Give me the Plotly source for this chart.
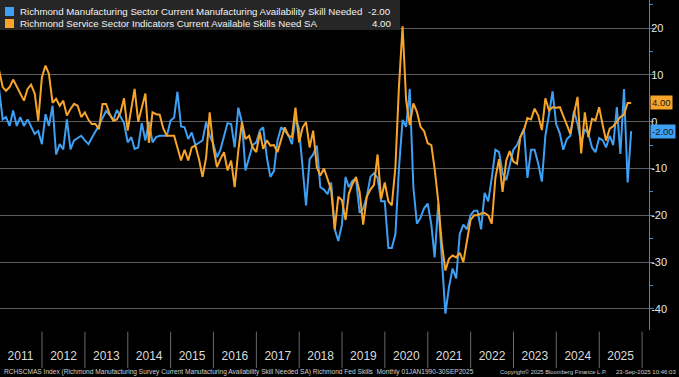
import pandas as pd
import plotly.graph_objects as go

# ---- data (monthly, Dec-2010 .. Sep-2025, month-end) ----
start_month = "2011-01-01"   # first of month after first observation
n_points = 178

manufacturing = [
    7, 0.5, 1, -0.9, 2.4, -0.9, 1, -0.9, 0.5, -1.2,
    -2.6, -2, -4.8, 1.6, -0.9, 3.4, -7, -4.8, -5.9, 0.5,
    -5.9, -4, -3.4, -3, -4, -4.8, -3.5, -2.2, -0.8, 0.8,
    2.3, 1.5, 0.3, 2.5, 1, -0.3, -4.4, -3.3, -5.8, -5.5,
    -0.3, -4, -0.1, -4.4, -3.3, -3, -3, -3, 0.2, 0.9,
    6.4, -1, -1.2, -3.7, -2.3, -5, -4.5, -4, -0.1, -3,
    -4.8, -7.6, -6, -3, -0.3, -0.5, -5.5, 3, -0.1, -10.4,
    -7.5, -5, -4.4, -1.9, -1.2, -7.6, -11.8, -10.5, -4, -1.2,
    -2, -2.8, -4.8, 0.9, -1.5, -10.4, -17.9, -8, -7, -5.1,
    -14, -14.5, -15.5, -13, -23, -25.5, -22, -11.8, -14, -12.6,
    -12.2, -19.5, -18.6, -16, -11.8, -11, -12, -17, -17, -27,
    -27, -24, -10, 0.4, -1.1, 7, -14, -21.8, -20.5, -18.5,
    -17.5, -22, -29, -17.5, -30.4, -41, -35.4, -31.4, -33.5, -24,
    -22, -23, -20, -19, -19, -23, -15.2, -17, -12, -6,
    -6.5, -11, -12.5, -9, -6, -5, -3.5, -1.5, -12, -6,
    -6, -9, -12.8, -3, 1.6, 6.5, -0.5, -2.5, -6, -3.7,
    -3, 2.3, -0.5, -4.5, -1.6, -2.5, -5.5, -6.5, -3.5, -4,
    -5.5, -3, -5, 3.1, -6.9, 7, -13, -2,
]

services = [
    11, 7.4, 6.6, 7.4, 9, 7.4, 6, 4.5, 7, 7.9,
    6, 0.2, 9.5, 12, 10.2, 4, 4.9, 3.4, 4.5, 1.3,
    2.7, 3.8, 3.4, 1, 2, 0.4, -0.5, -0.5, -1.6, 3.8,
    3.8, 1.6, 0.2, 0.5, 2, 5, -1.9, 3, 7, 0,
    3, 6, -4.5, 2, 1.6, 1.5, -1.5, -3, -3, -3,
    -5.5, -8.3, -6, -8.3, -5.5, -5.1, -8, -11.8, -7.6, 2,
    -5.5, -9.7, -8, -6.5, -10.4, -8.3, -14, -6.2, -0.1, -3.7,
    -3, -5.5, -6.5, -2.3, -5.8, -4, -5.1, -5, -6.5, -4,
    -1.2, -3, -3.3, 3, -4.4, -1.2, -0.1, -5.5, -1.9, -9.7,
    -11.5, -10, -12.5, -14.5, -23, -16, -16.8, -21, -15.4, -13.3,
    -11.8, -15, -22, -16, -14.5, -13.5, -7, -16.5, -13, -17,
    -17.9, -9.6, 7.5, 20.4, 4.6, -0.7, 3.9, 2.1, -1.1, -2,
    -4.6, -5, -10, -17, -26, -31.8, -29.3, -28.6, -29, -28,
    -30, -25.5, -21, -20, -20, -19.6, -19.5, -20, -21.8, -12,
    -8, -15, -8.3, -6.3, -8.5, -9, -3.3, -1.8, 0.8, 0.5,
    2.8, 1.3, -1.8, 5, 2.4, 3.1, 3, 3.1, 1.3, -1,
    -2.6, 1.7, 5.3, -6.8, 2, -3.3, 0.6, 0.3, 3.1, -0.8,
    -4, -1.5, -1, 0, 1, 1.5, 4, 4,
]

manufacturing_name = "Richmond Manufacturing Sector Current Manufacturing Availability Skill Needed"
services_name = "Richmond Service Sector Indicators Current Available Skills Need SA"
manufacturing_last = -2.00
services_last = 4.00

years = list(range(2011, 2026))
y_ticks = [20, 10, 0, -10, -20, -30, -40]

footer_left = ("RCHSCMAS Index (Richmond Manufacturing Survey Current Manufacturing Availability "
               "Skill Needed SA) Richmond Fed Skills  Monthly 01JAN1990-30SEP2025")
footer_mid = "Copyright\u00a9 2025 Bloomberg Finance L.P."
footer_right = "23-Sep-2025 10:46:03"

# ---- styling ----
BLUE = "#3f9ff2"
ORANGE = "#f7a42a"
GRID = "#5e5e5e"
AXIS = "#4f86c6"
FONT = "Liberation Sans, Arial, sans-serif"

dates = pd.date_range(start_month, periods=n_points, freq="MS") - pd.Timedelta(days=1)

fig = go.Figure()
fig.add_trace(go.Scatter(x=dates, y=manufacturing, mode="lines",
                         line=dict(color=BLUE, width=2), name=manufacturing_name,
                         showlegend=False))
fig.add_trace(go.Scatter(x=dates, y=services, mode="lines",
                         line=dict(color=ORANGE, width=2), name=services_name,
                         showlegend=False))

W, H = 679, 377
PW, PH = 649, 330

fig.update_layout(
    width=W, height=H, autosize=False,
    margin=dict(l=0, r=W - PW, t=0, b=H - PH, pad=0),
    paper_bgcolor="#000000", plot_bgcolor="#000000",
    font=dict(family=FONT, color="#e6e6e6"),
    showlegend=False,
)

fig.update_xaxes(
    type="date", range=["2011-01-08", "2026-03-01"],
    showgrid=False, zeroline=False, showline=False,
    tickvals=[f"{y}-07-02" for y in years], ticktext=[str(y) for y in years],
    ticks="", tickfont=dict(size=12, color="#dcdcdc", family=FONT),
    ticklabelstandoff=17,
)
fig.update_yaxes(
    range=[-44.5, 26], side="right",
    tickvals=y_ticks, ticktext=[str(v) for v in y_ticks],
    showgrid=True, gridcolor=GRID, gridwidth=1, zeroline=False,
    showline=True, linecolor=AXIS, linewidth=1,
    ticks="outside", ticklen=4, tickcolor=AXIS,
    tickfont=dict(size=11, color="#e6e6e6", family=FONT),
    ticklabelstandoff=-5,
    minor=dict(dtick=5, tick0=0, ticks="outside", ticklen=3, tickcolor=AXIS, showgrid=False),
)

shapes = []
# year separators in the bottom band
for y in years[1:] + [2026]:
    shapes.append(dict(type="line", xref="x", yref="paper",
                       x0=f"{y}-01-01", x1=f"{y}-01-01", y0=-0.005, y1=-38 / PH,
                       line=dict(color="#6a6a6a", width=1)))
# legend box
shapes.append(dict(type="rect", xref="paper", yref="paper",
                   x0=0, x1=400 / PW, y0=1 - 30 / PH, y1=1,
                   fillcolor="#262626", line=dict(width=0), layer="above"))
for col, (ya, yb) in ((BLUE, (7, 16)), (ORANGE, (19, 28))):
    shapes.append(dict(type="rect", xref="paper", yref="paper",
                       x0=5 / PW, x1=14 / PW, y0=1 - yb / PH, y1=1 - ya / PH,
                       fillcolor=col, line=dict(width=0), layer="above"))
fig.update_layout(shapes=shapes)

ann = []
for name, val, yc in ((manufacturing_name, manufacturing_last, 11.5),
                      (services_name, services_last, 23.5)):
    ann.append(dict(xref="paper", yref="paper", x=18 / PW, y=1 - yc / PH,
                    xanchor="left", yanchor="middle", showarrow=False,
                    text=name, font=dict(size=9.7, color="#f2f2f2", family=FONT)))
    ann.append(dict(xref="paper", yref="paper", x=393 / PW, y=1 - yc / PH,
                    xanchor="right", yanchor="middle", showarrow=False,
                    text=f"{val:.2f}", font=dict(size=9.7, color="#f2f2f2", family=FONT)))
# last value tags
for val, col in ((services_last, ORANGE), (manufacturing_last, BLUE)):
    ann.append(dict(xref="paper", yref="y", x=1, y=val, xshift=1,
                    xanchor="left", yanchor="middle", showarrow=False,
                    text=f"{val:.2f}", bgcolor=col, borderpad=1,
                    font=dict(size=9.5, color="#1a1a1a", family=FONT)))
# footer
fy = -(372 - PH) / PH
ann.append(dict(xref="paper", yref="paper", x=2 / PW, y=fy, xanchor="left", yanchor="middle",
                showarrow=False, text=footer_left, font=dict(size=6.6, color="#cfcfcf", family=FONT)))
ann.append(dict(xref="paper", yref="paper", x=498 / PW, y=fy, xanchor="left", yanchor="middle",
                showarrow=False, text=footer_mid, font=dict(size=5.8, color="#cfcfcf", family=FONT)))
ann.append(dict(xref="paper", yref="paper", x=678 / PW, y=fy, xanchor="right", yanchor="middle",
                showarrow=False, text=footer_right, font=dict(size=6, color="#cfcfcf", family=FONT)))
fig.update_layout(annotations=ann)

fig.write_html("out.html", config={"displayModeBar": False},
               post_script="document.body.style.margin='0';document.body.style.overflow='hidden';")
